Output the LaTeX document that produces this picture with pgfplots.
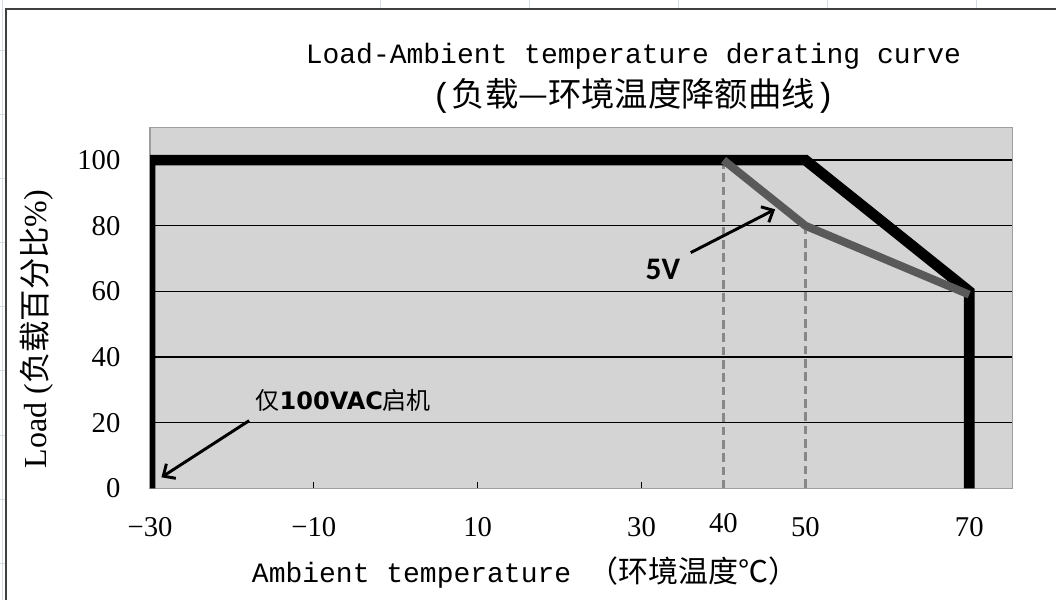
\documentclass[border=0pt]{standalone}
\usepackage{pgfplots}
\pgfplotsset{compat=1.18}
\usepackage{fontspec}
\setmainfont{Liberation Serif}
\newfontfamily\monof{Liberation Mono}
\newfontfamily\cjk{Noto Sans CJK SC}
\newfontfamily\calib{Carlito}
\newfontfamily\dvs{DejaVu Sans}
\usetikzlibrary{arrows.meta}
\definecolor{plotbg}{HTML}{D4D4D4}
\definecolor{five}{HTML}{595959}
\definecolor{dashc}{HTML}{878787}
\definecolor{sheet}{HTML}{D4DAE6}

\begin{document}
\begin{tikzpicture}
\useasboundingbox (0,0) rectangle (792pt,450pt);
% spreadsheet lines around the chart object
\draw[sheet, line width=0.75pt] (1.5pt,0) -- (1.5pt,450pt);
\foreach \yy in {51,115,...,563} \draw[sheet, line width=0.75pt] (0,{(600-\yy)*0.75pt}) -- (4pt,{(600-\yy)*0.75pt});
\foreach \xx in {380,529,...,978} \draw[sheet, line width=0.75pt] ({\xx*0.75pt},450pt) -- ({\xx*0.75pt},444pt);
% chart border
\draw[black!75, line width=1.5pt] (4.5pt,0) -- (4.5pt,443.6pt) -- (792pt,443.6pt);

\begin{axis}[
  at={(112.5pt,83.8pt)}, anchor=south west,
  scale only axis, width=647pt, height=270.75pt,
  xmin=-30, xmax=75.3, ymin=0, ymax=110,
  axis background/.style={fill=plotbg},
  axis line style={draw=black!38, line width=1.1pt},
  xtick={-30,-10,10,30,50}, xticklabels={−30,−10,10,30,50},
  extra x ticks={40,70}, extra x tick labels={\raisebox{3pt}{40},70},
  extra x tick style={major tick length=0pt, grid=none},
  ytick={0,20,...,100},
  xtick pos=bottom, ytick pos=left,
  ymajorgrids, grid style={black, line width=0.9pt},
  tick align=inside, major tick length=5pt,
  tick style={black, line width=0.75pt},
  ticklabel style={font=\fontsize{21.5}{21.5}\selectfont},
  xticklabel style={anchor=base, inner sep=0pt, yshift=-36.4pt},
  yticklabel style={anchor=east, inner sep=0pt, xshift=-22pt},
  /pgf/number format/assume math mode=true,
]
\addplot[dashc, line width=2.8pt, dash pattern=on 6.5pt off 3.5pt] coordinates {(40,100) (40,0)};
\addplot[dashc, line width=2.8pt, dash pattern=on 6.5pt off 3.5pt] coordinates {(50,80) (50,0)};
\addplot[black, line width=8pt, line join=miter] coordinates {(-30,0) (-30,100) (50,100) (70,60) (70,0)};
\addplot[five, line width=6pt] coordinates {(40,100) (50,80) (70,59)};

\draw[black, line width=2.2pt, -{Straight Barb[length=7pt, width=13pt, line width=2.2pt]}] (axis cs:36.0,71.8) -- (axis cs:46.3,85.0);
\node[font=\calib\bfseries\fontsize{23.5}{23.5}\selectfont] at (axis cs:32.6,66.8) {5V};
\draw[black, line width=2.2pt, -{Straight Barb[length=7pt, width=13pt, line width=2.2pt]}] (axis cs:-17.9,20.6) -- (axis cs:-28.6,3.35);
\node[font=\fontsize{18}{18}\selectfont] at (axis cs:-6.4,26.9) {{\cjk 仅}{\dvs\bfseries 100VAC}{\cjk 启机}};
\end{axis}

\node[anchor=base, font=\monof\fontsize{21}{21}\selectfont] at (475.1pt,402pt) {Load-Ambient temperature derating curve};
\node[font=\fontsize{25}{25}\selectfont] at (475pt,378pt) {{\monof(}{\cjk 负载—环境温度降额曲线}{\monof)}};
\node[font=\fontsize{21}{21}\selectfont] at (393.75pt,20.25pt) {{\monof Ambient temperature }{\cjk\fontsize{22.5}{22.5}\selectfont （环境温度℃）}};
\node[rotate=90, font=\fontsize{24}{24}\selectfont] at (27.75pt,203.25pt) {Load ({\cjk\fontsize{23.5}{23.5}\selectfont 负载百分比}\%)};
\end{tikzpicture}
\end{document}
